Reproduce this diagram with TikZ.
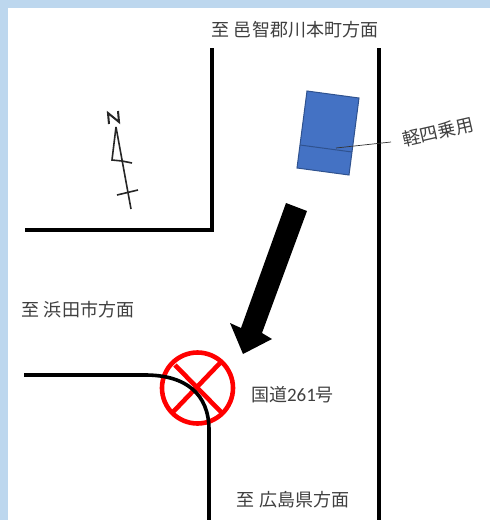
\documentclass[tikz,border=0pt]{standalone}
\usepackage{fontspec}
\setmainfont{Noto Sans CJK JP}
\newfontfamily\latinf{Carlito}
\definecolor{bgblue}{HTML}{BDD7EE}
\definecolor{carblue}{HTML}{4472C4}
\definecolor{careedge}{HTML}{2F528F}
\definecolor{txt}{HTML}{404040}
\tikzset{
  road/.style={draw=black,line width=3.6pt},
  lab/.style={text=txt,font=\fontsize{18}{22}\selectfont,inner sep=0pt,anchor=center},
  thinl/.style={draw=black!85,line width=1.6pt},
  signl/.style={draw=red,line width=4.6pt},
}
\begin{document}
\begin{tikzpicture}[x=1pt,y=-1pt]
\useasboundingbox (0,0) rectangle (490,520);
\fill[bgblue] (0,0) rectangle (490,520);
\fill[white] (8,8) rectangle (490,520);
% roads
\draw[road] (212,48) -- (212,230) -- (25,230);
\draw[road] (379,48) -- (379,520);
% car
\draw[fill=carblue,draw=careedge,line width=1pt] (307,91) -- (359,98) -- (349,175) -- (297,168) -- cycle;
\draw[careedge,line width=1pt] (300,145) -- (352,152);
\draw[black!80,line width=0.7pt] (336,148) -- (391,142);
% big arrow
\fill[black] (286,203) -- (307,211) -- (262,333) -- (272,339) -- (243,354) -- (230,323) -- (241,328) -- cycle;
% no-go sign
\draw[signl] (197.5,388) circle (35.5);
\draw[signl] (175,365) -- (222,413);
\draw[signl] (220,363) -- (173,412);
% curved road, above sign
\draw[road] (24,375) -- (145,375) .. controls (186,375) and (209,394) .. (209,430) -- (209,520);
% compass
\draw[thinl] (116,127) -- (131,209);
\draw[thinl] (116,127) -- (112,160) -- (122,161);
\draw[thinl] (122,161) -- (132,163);
\draw[thinl] (117,195) -- (138,190);
\draw[thinl,line width=2pt] (109,124) -- (108,113) -- (119,122) -- (118,111);
% labels
\node[lab] (t1) at (295,30) {至 邑智郡川本町方面};
\node[lab] (t2) at (78,310) {至 浜田市方面};
\node[lab] (t3) at (293,500) {至 広島県方面};
\node[lab] (t4) at (292.5,395) {国道{\latinf\fontsize{19}{22}\selectfont 261}号};
\node[lab,rotate=13] (t5) at (438,132) {軽四乗用};
\end{tikzpicture}
\end{document}
